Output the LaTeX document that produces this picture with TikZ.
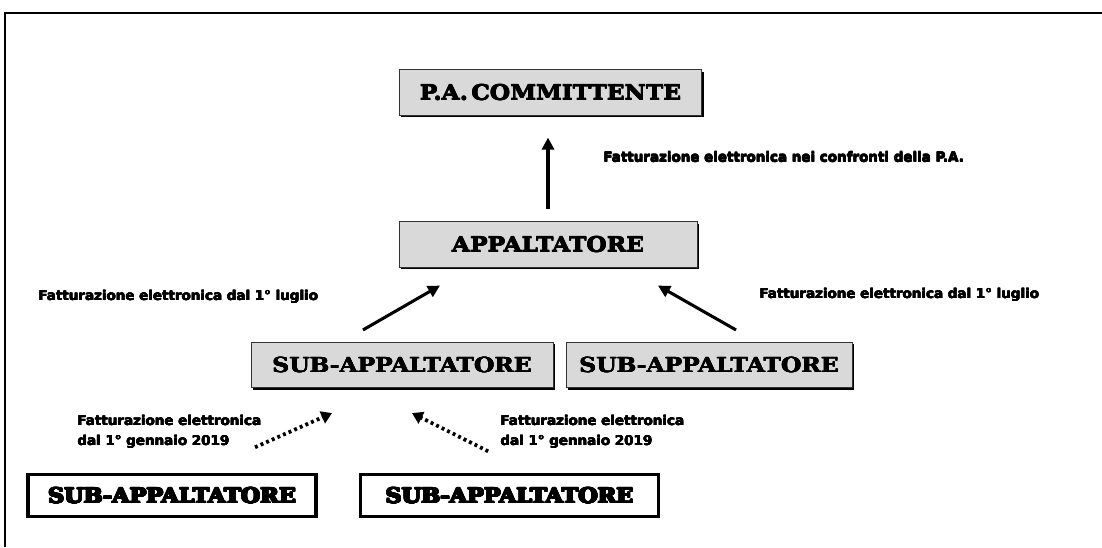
\documentclass[tikz,border=0pt]{standalone}
\usepackage{fontspec}
\usepackage{xcolor}
\usepackage{tikz}
\usetikzlibrary{arrows.meta}
\usetikzlibrary{shadows}
\newfontfamily\boxfont[UprightFont=* Bold,FakeStretch=1.13]{DejaVu Serif}
\newfontfamily\heavyfont[UprightFont=* Bold,FakeStretch=1.08]{DejaVu Serif}
\newfontfamily\lblfont[UprightFont=* Bold]{DejaVu Sans}
\definecolor{boxgray}{RGB}{217,217,217}
% overprinted text, a little heavier
\newcommand{\fat}[2]{\rlap{#2}\rlap{\hspace{#1}#2}\rlap{\raisebox{#1}{#2}}\rlap{\hspace{#1}\raisebox{#1}{#2}}\hspace{#1}#2}
% overprinted twice, much heavier
\newcommand{\fatter}[2]{\rlap{\fat{#1}{#2}}\rlap{\hspace{#1}\fat{#1}{#2}}\rlap{\raisebox{#1}{\fat{#1}{#2}}}\hspace{#1}\raisebox{#1}{\fat{#1}{#2}}}
\tikzset{
	gray box/.style={rectangle,fill=boxgray,draw=black!80,line width=0.6pt,
		minimum height=34pt,font=\boxfont\fontsize{15.5}{18}\selectfont,
		drop shadow={shadow xshift=1.6pt,shadow yshift=-1.6pt,opacity=1,fill=black}},
	white box/.style={rectangle,fill=white,draw=black,line width=2.3pt,
		minimum height=31pt,font=\heavyfont\fontsize{15.5}{18}\selectfont},
	lbl/.style={anchor=west,align=left,inner sep=0pt,
		font=\lblfont\fontsize{10.1}{15}\selectfont},
	big arrow/.style={-{Triangle[length=9pt,width=9pt]},line width=2.3pt},
	dot arrow/.style={-{Triangle[length=8pt,width=9.5pt]},line width=2.8pt,
		dash pattern=on 2.2pt off 2.4pt}
}
\begin{document}
\begin{tikzpicture}[x=0.75pt,y=-0.75pt]
	\useasboundingbox (0,0) rectangle (1102,547);
	% frame
	\draw[line width=1.5pt] (5,547) -- (5,13) -- (1102,13);
	% boxes
	\node [gray box,minimum width=227pt] (pa) at (550.5,92.5) {\fat{0.35pt}{P.A.\,COMMITTENTE}};
	\node [gray box,minimum width=223.5pt] (app) at (548,244.5) {\fat{0.35pt}{APPALTATORE}};
	\node [gray box,minimum width=226.5pt] (subA) at (402,365) {\fat{0.35pt}{SUB-APPALTATORE}};
	\node [gray box,minimum width=214.5pt] (subB) at (709,365) {\fat{0.35pt}{SUB-APPALTATORE}};
	\node [white box,minimum width=216pt] (subC) at (172,495.5) {\fatter{0.6pt}{SUB-APPALTATORE}};
	\node [white box,minimum width=224pt] (subD) at (509.5,495.5) {\fatter{0.6pt}{SUB-APPALTATORE}};
	% arrows
	\draw[big arrow,shorten <=9pt,shorten >=16.5pt] (app.north) -- (app.north |- pa.south);
	\draw[big arrow] ([xshift=-29.25pt,yshift=9pt]subA.north) -- ([xshift=-81pt,yshift=-13.5pt]app.south);
	\draw[big arrow] ([xshift=20.25pt,yshift=9pt]subB.north) -- ([xshift=82.5pt,yshift=-13.5pt]app.south);
	\draw[dot arrow] ([xshift=62.25pt,yshift=19.5pt]subC.north) -- ([xshift=-52.5pt,yshift=-18.75pt]subA.south);
	\draw[dot arrow] ([xshift=-16pt,yshift=16.5pt]subD.north) -- ([xshift=7.5pt,yshift=-18.75pt]subA.south);
	% labels
	\node [lbl] (lblPA) at (603,157) {\fat{0.3pt}{Fatturazione elettronica nei confronti della P.A.}};
	\node [lbl] (lblL) at (38,297) {\fat{0.3pt}{Fatturazione elettronica dal 1° luglio}};
	\node [lbl] (lblR) at (759,295) {\fat{0.3pt}{Fatturazione elettronica dal 1° luglio}};
	\node [lbl] (lblBL) at (77,432) {\fat{0.3pt}{Fatturazione elettronica}\\\fat{0.3pt}{dal 1° gennaio 2019}};
	\node [lbl] (lblBR) at (500,432) {\fat{0.3pt}{Fatturazione elettronica}\\\fat{0.3pt}{dal 1° gennaio 2019}};
\end{tikzpicture}
\end{document}
